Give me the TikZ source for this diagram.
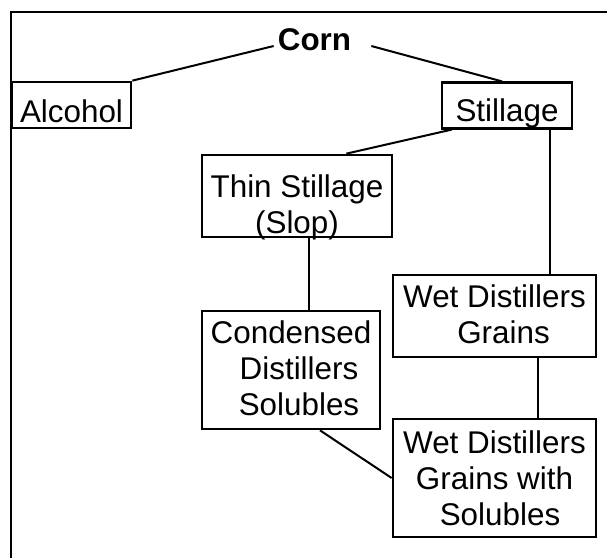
\documentclass[tikz,border=0pt]{standalone}
\usepackage{fontspec}
\setmainfont{Liberation Sans}
\tikzset{
    product/.style={
        draw,
        rectangle,
        line width=2.7pt,
        inner sep=0pt,
        align=center,
        font=\fontsize{31.4}{36}\selectfont
    },
    link/.style={
        draw,
        line width=2pt
    }
}
\newcommand{\topgap}[1]{\rule{0pt}{#1pt}}
\newcommand{\botgap}[1]{\rule[-#1pt]{0pt}{0pt}}

\begin{document}
\begin{tikzpicture}[x=1pt, y=-1pt]
  \useasboundingbox (0,0) rectangle (607,557);
  \clip (0,0) rectangle (607,557);
  % Frame (runs off the right and bottom)
  \draw[line width=2.8pt] (11,600) -- (11,12) -- (650,12);

  % Top
  \node[font=\fontsize{31.4}{36}\selectfont\bfseries, inner sep=4pt, anchor=base] (corn) at (314.5,50) {Corn};

  % First split
  \node[product, minimum width=119pt] (alcohol) at (71.5,105) {\topgap{40}Alcohol\botgap{6}};
  \node[product, minimum width=130pt] (stillage) at (507,105.5) {\topgap{39}Stillage\botgap{6}};

  % Stillage products
  \node[product, minimum width=190pt] (thin) at (297,196) {\topgap{42}Thin Stillage\\\raisebox{0pt}[\height][0pt]{(Slop)}\botgap{4}};
  \node[product, minimum width=203pt] (wdg) at (494.5,316) {\topgap{32}Wet Distillers\\\hspace*{18pt}Grains\botgap{14}};
  \node[product, minimum width=178pt] (cds) at (291,370) {\topgap{32}Condensed\\\hspace*{16pt}Distillers\\\hspace*{16pt}Solubles\botgap{14}};
  \node[product, minimum width=203pt] (wdgs) at (494.5,478) {\topgap{34}Wet Distillers\\Grains with\\\hspace*{11pt}Solubles\botgap{12}};

  % Connections
  \draw[link] ([yshift=4pt]corn.base west) -- (alcohol.north east);
  \draw[link] ([xshift=16pt, yshift=4pt]corn.base east) -- ([xshift=-5pt]stillage.north);
  \draw[link] ([xshift=11pt]stillage.south west) -- ([xshift=-47pt]thin.north east);
  \draw[link] ([xshift=-23pt]stillage.south east) -- ([xshift=-23pt]stillage.south east |- wdg.north);
  \draw[link] ([xshift=12pt]thin.south) -- ([xshift=12pt]thin.south |- cds.north);
  \draw[link] ([xshift=-59pt]wdg.south east) -- ([xshift=-59pt]wdg.south east |- wdgs.north);
  \draw[link] ([xshift=29pt]cds.south) -- (wdgs.west);
\end{tikzpicture}
\end{document}
